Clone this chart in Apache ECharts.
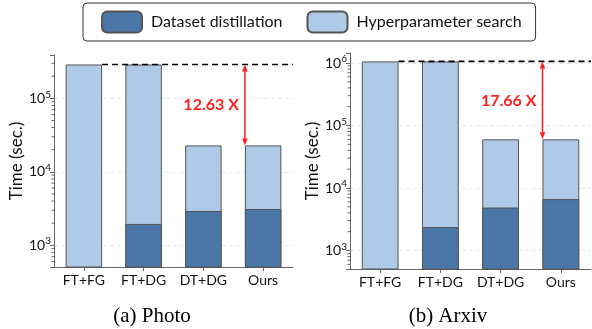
<!DOCTYPE html>
<html>
<head>
<meta charset="utf-8">
<script src="https://cdn.jsdelivr.net/npm/echarts@6/dist/echarts.min.js"></script>
<style>
  html, body { margin: 0; padding: 0; background: #fff; }
  #chart { width: 592px; height: 329px; }
</style>
</head>
<body>
<div id="chart"></div>
<script>
// ==================== DATA ====================
const categories = ['FT+FG', 'FT+DG', 'DT+DG', 'Ours'];
const legendNames = ['Dataset distillation', 'Hyperparameter search'];

// time in seconds
const photoDistill = [null, 1950, 2930, 3120];
const photoSearch = [289000, 287000, 19950, 19760];
const arxivDistill = [null, 2370, 4870, 6640];
const arxivSearch = [1060000, 1057600, 55200, 53400];

const speedupLabels = ['12.63 X', '17.66 X'];
const captions = ['(a) Photo', '(b) Arxiv'];

// ==================== STYLE ====================
const darkC = '#4a77a8', lightC = '#aecae7', edgeC = '#555';
const axisC = '#666', textC = '#111', red = '#ff1f1f';
const font = 'Lato';

const chart = echarts.init(document.getElementById('chart'));

const axisRanges = [[506, 389000], [506, 1445000]];
const grids = [
  { left: 54, top: 55, width: 239, height: 212 },
  { left: 350, top: 53, width: 241, height: 216 }
];

function powLabel(v) {
  const l = Math.log10(v), e = Math.round(l);
  if (Math.abs(l - e) > 1e-6) return '';
  return '{b|10}{s|' + e + '}';
}

function minorTicks(min, max) {
  const out = [];
  for (let d = 100; d <= 1e7; d *= 10)
    for (let m = 2; m <= 9; m++) if (m * d > min && m * d < max) out.push([0, m * d]);
  return out;
}

function panelSeries(i, distill, search) {
  const totals = search.map((s, k) => s + (distill[k] || 0));
  return [
    {
      name: legendNames[1], type: 'bar', xAxisIndex: i, yAxisIndex: i,
      data: totals, barWidth: '61%', barGap: '-100%',
      itemStyle: { color: lightC, borderColor: edgeC, borderWidth: 1 }
    },
    {
      name: legendNames[0], type: 'bar', xAxisIndex: i, yAxisIndex: i,
      data: distill.map(v => v == null ? '-' : v), barWidth: '61%', barGap: '-100%',
      itemStyle: { color: darkC, borderColor: edgeC, borderWidth: 1 }
    },
    {
      type: 'custom', xAxisIndex: i, yAxisIndex: i, silent: true, clip: false, z: 5,
      data: [[0, totals[0], 3, totals[3]]],
      encode: { x: [0, 2], y: [1, 3] },
      renderItem: (params, api) => {
        const cs = params.coordSys;
        const top = api.coord([api.value(0), api.value(1)]);
        const low = api.coord([api.value(2), api.value(3)]);
        const half = api.size([1, 0])[0] * 0.61 / 2;
        const ax = low[0] - half, y1 = top[1], y2 = low[1];
        return {
          type: 'group', children: [
            { type: 'line', shape: { x1: top[0] + half, y1: y1, x2: cs.x + cs.width, y2: y1 },
              style: { stroke: '#000', lineWidth: 1.6, lineDash: [6, 4] } },
            { type: 'line', shape: { x1: ax, y1: y1 + 4, x2: ax, y2: y2 - 4 },
              style: { stroke: red, lineWidth: 1.5 } },
            { type: 'polygon', shape: { points: [[ax, y1], [ax - 2.8, y1 + 7], [ax + 2.8, y1 + 7]] },
              style: { fill: red } },
            { type: 'polygon', shape: { points: [[ax, y2], [ax - 2.8, y2 - 7], [ax + 2.8, y2 - 7]] },
              style: { fill: red } },
            { type: 'text', style: { text: speedupLabels[i], x: ax - 6, y: (y1 + y2) / 2,
              align: 'right', verticalAlign: 'middle', fill: red, font: 'bold 16px ' + font } }
          ]
        };
      }
    },
    {
      type: 'custom', xAxisIndex: i, yAxisIndex: i, silent: true, clip: false,
      data: minorTicks(axisRanges[i][0], axisRanges[i][1]),
      encode: { x: 0, y: 1 },
      renderItem: (params, api) => {
        const x = params.coordSys.x;
        const y = api.coord([0, api.value(1)])[1];
        return { type: 'line', shape: { x1: x - 2.5, y1: y, x2: x, y2: y },
          style: { stroke: axisC, lineWidth: 1 } };
      }
    }
  ];
}

const xAxes = [0, 1].map(i => ({
  type: 'category', gridIndex: i, data: categories,
  axisLine: { lineStyle: { color: axisC, width: 1 } },
  axisTick: { show: true, alignWithLabel: true, length: 4, lineStyle: { color: axisC } },
  axisLabel: { interval: 0, color: textC, fontSize: 14, fontFamily: font, margin: 6 }
}));

const yAxes = [0, 1].map(i => ({
  type: 'log', gridIndex: i, min: axisRanges[i][0], max: axisRanges[i][1], splitNumber: 3,
  name: 'Time (sec.)', nameLocation: 'middle', nameGap: 27,
  nameTextStyle: { color: textC, fontSize: 17, fontFamily: font },
  axisLine: { show: true, lineStyle: { color: axisC, width: 1 } },
  axisTick: { show: true, length: 4, lineStyle: { color: axisC } },
  axisLabel: {
    margin: 3, formatter: powLabel,
    rich: {
      b: { fontSize: 14, fontFamily: font, color: textC, lineHeight: 18 },
      s: { fontSize: 10, fontFamily: font, color: textC, lineHeight: 10, verticalAlign: 'top' }
    }
  },
  splitLine: { show: true, showMinLine: false, showMaxLine: false,
    lineStyle: { color: '#e8e8e8', type: [4, 3] } }
}));

chart.setOption({
  animation: false,
  backgroundColor: '#fff',
  legend: {
    data: legendNames, left: 83, top: 3,
    padding: [7.5, 14, 7.5, 18], itemGap: 24, itemWidth: 40, itemHeight: 21,
    borderColor: '#333', borderWidth: 1, borderRadius: 4,
    textStyle: { fontSize: 16, fontFamily: font, color: textC, padding: [0, 0, 0, 4] }
  },
  grid: grids,
  xAxis: xAxes,
  yAxis: yAxes,
  series: [...panelSeries(0, photoDistill, photoSearch), ...panelSeries(1, arxivDistill, arxivSearch)],
  graphic: captions.map((t, i) => ({
    type: 'text', x: i ? 448 : 152, y: 316,
    style: { text: t, align: 'center', verticalAlign: 'middle', fill: '#000',
      font: '21px "Liberation Serif"' }
  }))
});
</script>
</body>
</html>
